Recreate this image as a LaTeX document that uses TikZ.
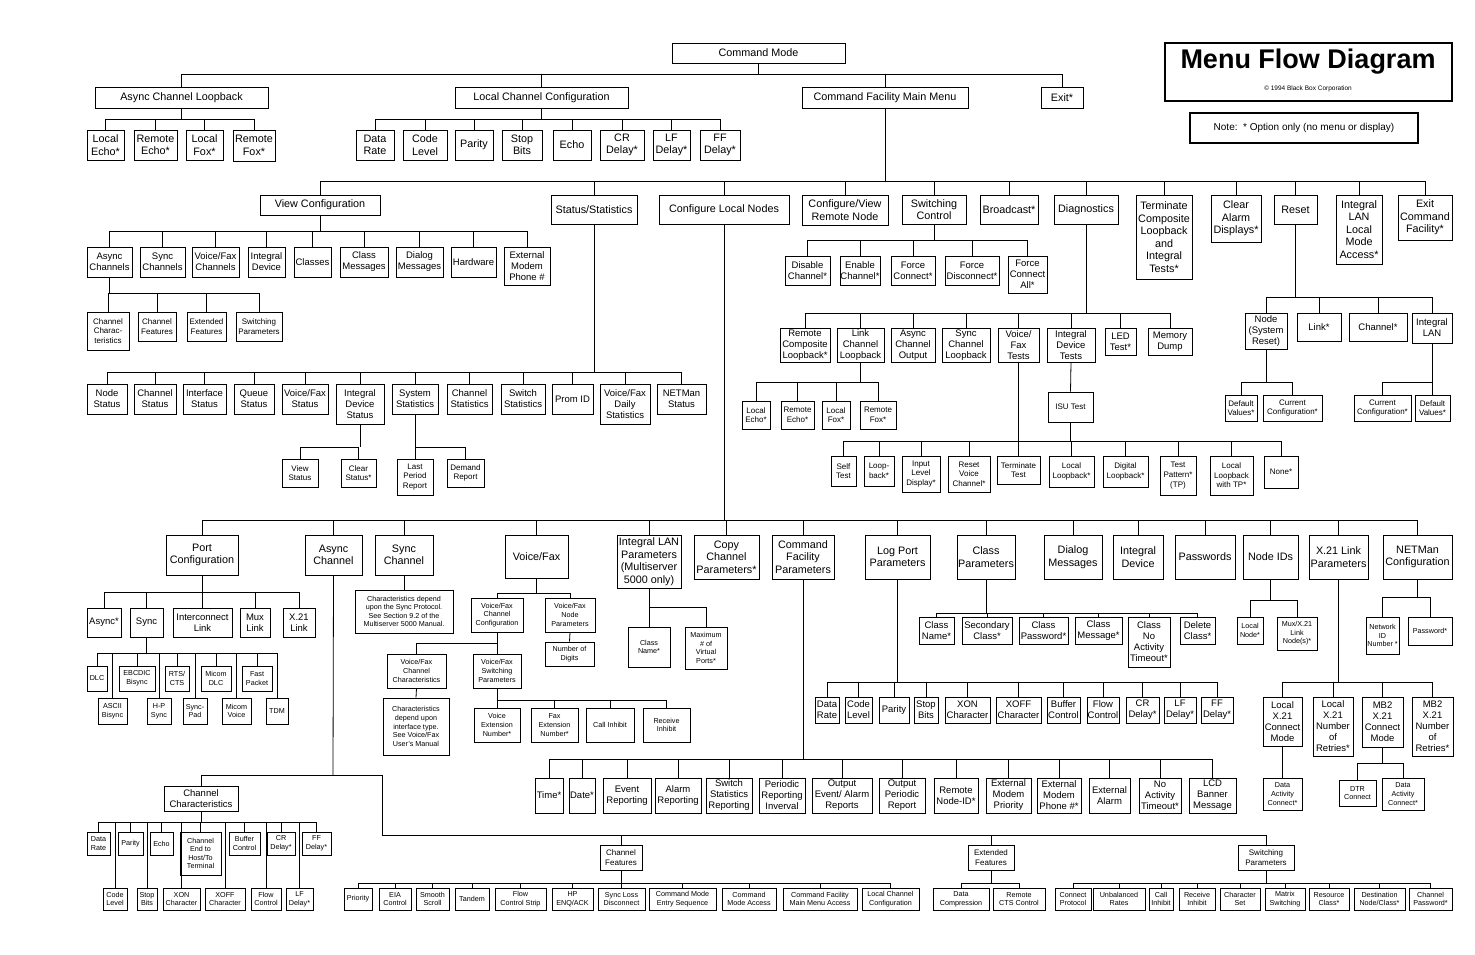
\documentclass[tikz,border=0pt]{standalone}
\usepackage{fontspec}
\setmainfont{Liberation Sans}
\newcommand\fa{\fontsize{10.8}{12.5}\selectfont}
\newcommand\fb{\fontsize{9.5}{11}\selectfont}
\newcommand\fc{\fontsize{8}{9.6}\selectfont}
\newcommand\fd{\fontsize{7.2}{8.6}\selectfont}
\tikzset{bx/.style={draw,line width=0.8pt,inner sep=0.5pt,align=center,font=\fb},
 sa/.style={font=\fa},sc/.style={font=\fc},sd/.style={font=\fd}}
\newcommand\B[7][]{\node[bx,#1,minimum width={(#4)-(#3)},minimum height={(#6)-(#5)}] (#2) at ({((#3)+(#4))/2},{((#5)+(#6))/2}) {#7};}
\newcommand\T[5]{\draw (#1.south) -- (#1.south|-0,#2); \draw (#3.north|-0,#2) -- (#4.north|-0,#2); \foreach \c in {#5}{\draw (\c.north) -- (\c.north|-0,#2);}}
\begin{document}
\begin{tikzpicture}[x=1pt,y=-1pt,line width=0.8pt]
\useasboundingbox[fill=white] (0,0) rectangle (1475,954);
% title
\draw[line width=2pt] (1165,43) rectangle (1452,101);
\node[font=\fontsize{27}{30}\bfseries\selectfont] (ttl) at (1308,62) {Menu Flow Diagram};
\node[font=\fontsize{6.5}{8}\selectfont] (cpy) at (1308,89) {\textcopyright{} 1994 Black Box Corporation};
\node[draw,line width=1.3pt,minimum width=228,minimum height=30,font=\fontsize{10}{12}\selectfont] (note) at (1304,128) {Note:\ \ * Option only (no menu or display)};
% top
\B[sa]{cm}{672}{845}{43}{63}{Command Mode}
\B[sa]{acl}{95}{268}{87}{108}{Async Channel Loopback}
\B[sa]{lcc}{455}{628}{87}{108}{Local Channel Configuration}
\B[sa]{cfmm}{802}{968}{87}{108}{Command Facility Main Menu}
\B[sa]{ext}{1041}{1083}{87}{108}{Exit*}
\T{cm}{74}{acl}{ext}{acl,lcc,cfmm,ext}
\B[sa]{a1}{87}{124}{130}{160}{Local\\Echo*}
\B[sa]{a2}{134}{177}{130}{160}{Remote\\Echo*}
\B[sa]{a3}{186}{223}{130}{160}{Local\\Fox*}
\B[sa]{a4}{233}{275}{130}{161}{Remote\\Fox*}
\T{acl}{119}{a1}{a4}{a1,a2,a3,a4}
\B[sa]{l1}{356}{394}{130}{160}{Data\\Rate}
\B[sa]{l2}{403}{447}{130}{160}{Code\\Level}
\B[sa]{l3}{455}{493}{130}{160}{Parity}
\B[sa]{l4}{502}{542}{130}{160}{Stop\\Bits}
\B[sa]{l5}{553}{591}{130}{160}{Echo}
\B[sa]{l6}{600}{644}{130}{160}{CR\\Delay*}
\B[sa]{l7}{653}{690}{130}{160}{LF\\Delay*}
\B[sa]{l8}{700}{740}{130}{160}{FF\\Delay*}
\T{lcc}{119}{l1}{l8}{l1,l2,l3,l4,l5,l6,l7,l8}
% CFMM children
\B[sa]{vc}{260}{380}{195}{215}{View Configuration}
\B[sa]{ss}{551}{637}{195}{224}{Status/Statistics}
\B[sa]{cln}{659}{789}{195}{224}{Configure Local Nodes}
\B[sa]{cvr}{802}{888}{195}{225}{Configure/View\\Remote Node}
\B[sa]{swc}{902}{966}{195}{224}{Switching\\Control}
\B[sa]{brc}{980}{1038}{195}{224}{Broadcast*}
\B[sa]{dia}{1054}{1118}{195}{224}{Diagnostics}
\B[sa]{tcl}{1136}{1192}{195}{279}{Terminate\\Composite\\Loopback\\and\\Integral\\Tests*}
\B[sa]{cad}{1211}{1261}{195}{242}{Clear\\Alarm\\Displays*}
\B[sa]{rst}{1274}{1317}{195}{224}{Reset}
\B[sa]{ilan}{1336}{1382}{195}{264}{Integral\\LAN\\Local\\Mode\\Access*}
\B[sa]{ecf}{1398}{1452}{195}{240}{Exit\\Command\\Facility*}
\T{cfmm}{181}{vc}{ecf}{vc,ss,cln,cvr,swc,brc,dia,tcl,cad,rst,ilan,ecf}
% View configuration
\B{v1}{87}{132}{247}{277}{Async\\Channels}
\B{v2}{140}{185}{247}{277}{Sync\\Channels}
\B{v3}{192}{239}{247}{277}{Voice/Fax\\Channels}
\B{v4}{248}{285}{247}{277}{Integral\\Device}
\B{v5}{294}{331}{247}{277}{Classes}
\B{v6}{340}{388}{247}{277}{Class\\Messages}
\B{v7}{396}{443}{247}{277}{Dialog\\Messages}
\B{v8}{451}{496}{247}{277}{Hardware}
\B{v9}{504}{550}{247}{285}{External\\Modem\\Phone \#}
\T{vc}{231}{v1}{v9}{v1,v2,v3,v4,v5,v6,v7,v8,v9}
\B[sc]{w1}{87}{129}{312}{350}{Channel\\Charac-\\teristics}
\B[sc]{w2}{138}{176}{312}{341}{Channel\\Features}
\B[sc]{w3}{187}{226}{312}{341}{Extended\\Features}
\B[sc]{w4}{236}{282}{312}{341}{Switching\\Parameters}
\T{v1}{293}{w1}{w4}{w1,w2,w3,w4}
% Status/Statistics
\B{s1}{87}{127}{384}{414}{Node\\Status}
\B{s2}{134}{176}{384}{414}{Channel\\Status}
\B{s3}{183}{226}{384}{414}{Interface\\Status}
\B{s4}{234}{274}{384}{414}{Queue\\Status}
\B{s5}{282}{328}{384}{414}{Voice/Fax\\Status}
\B{s6}{336}{384}{384}{424}{Integral\\Device\\Status}
\B{s7}{392}{438}{384}{414}{System\\Statistics}
\B{s8}{447}{492}{384}{414}{Channel\\Statistics}
\B{s9}{501}{545}{384}{414}{Switch\\Statistics}
\B{s10}{552}{593}{384}{414}{Prom ID}
\B{s11}{600}{650}{384}{424}{Voice/Fax\\Daily\\Statistics}
\B{s12}{657}{706}{384}{414}{NETMan\\Status}
\T{ss}{372}{s1}{s12}{s1,s2,s3,s4,s5,s6,s7,s8,s9,s10,s11,s12}
\B[sc]{s61}{282}{318}{459}{487}{View\\Status}
\B[sc]{s62}{341}{376}{459}{487}{Clear\\Status*}
\T{s6}{447}{s61}{s62}{s61,s62}
\B[sc]{s71}{397}{433}{459}{495}{Last\\Period\\Report}
\B[sc]{s72}{447}{484}{459}{487}{Demand\\Report}
\T{s7}{447}{s71}{s72}{s71,s72}
% Switching control
\B{c1}{785}{830}{256}{285}{Disable\\Channel*}
\B{c2}{840}{880}{256}{285}{Enable\\Channel*}
\B{c3}{891}{935}{256}{285}{Force\\Connect*}
\B{c4}{945}{999}{256}{285}{Force\\Disconnect*}
\B{c5}{1008}{1047}{256}{293}{Force\\Connect\\All*}
\T{swc}{240}{c1}{c5}{c1,c2,c3,c4,c5}
% Diagnostics
\B{d1}{780}{830}{328}{362}{Remote\\Composite\\Loopback*}
\B{d2}{837}{884}{328}{362}{Link\\Channel\\Loopback}
\B{d3}{891}{935}{328}{362}{Async\\Channel\\Output}
\B{d4}{942}{990}{328}{362}{Sync\\Channel\\Loopback}
\B{d5}{998}{1039}{328}{362}{Voice/\\Fax\\Tests}
\B{d6}{1047}{1095}{328}{362}{Integral\\Device\\Tests}
\B{d7}{1105}{1136}{328}{355}{LED\\Test*}
\B{d8}{1148}{1192}{328}{355}{Memory\\Dump}
\T{dia}{313}{d1}{d8}{d1,d2,d3,d4,d5,d6,d7,d8}
\B[sc]{e1}{742}{770}{401}{429}{Local\\Echo*}
\B[sc]{e2}{781}{814}{401}{429}{Remote\\Echo*}
\B[sc]{e3}{822}{850}{401}{429}{Local\\Fox*}
\B[sc]{e4}{860}{896}{401}{429}{Remote\\Fox*}
\T{d2}{382}{e1}{e4}{e1,e2,e3,e4}
\B[sc]{f1}{831}{856}{456}{486}{Self\\Test}
\B[sc]{f2}{864}{894}{456}{486}{Loop-\\back*}
\B[sc]{f3}{902}{940}{456}{492}{Input\\Level\\Display*}
\B[sc]{f4}{948}{990}{456}{492}{Reset\\Voice\\Channel*}
\B[sc]{f5}{997}{1040}{456}{484}{Terminate\\Test}
\B[sc]{isu}{1048}{1093}{392}{422}{ISU Test}
\draw (d6.south) -- (isu.north);
\B[sc]{g1}{1049}{1094}{456}{487}{Local\\Loopback*}
\B[sc]{g2}{1103}{1148}{456}{487}{Digital\\Loopback*}
\B[sc]{g3}{1160}{1196}{456}{495}{Test\\Pattern*\\(TP)}
\B[sc]{g4}{1210}{1253}{456}{495}{Local\\Loopback\\with TP*}
\B[sc]{g5}{1264}{1298}{456}{488}{None*}
\T{d5}{441}{f1}{g1}{f1,f2,f3,f4,f5}
\T{isu}{441}{g1}{g5}{g1,g2,g3,g4,g5}
% Reset
\B{r1}{1245}{1287}{313}{349}{Node\\(System\\Reset)}
\B{r2}{1297}{1341}{313}{341}{Link*}
\B{r3}{1349}{1407}{313}{341}{Channel*}
\B{r4}{1412}{1452}{313}{343}{Integral\\LAN}
\T{rst}{297}{r1}{r4}{r1,r2,r3,r4}
\B[sc]{r11}{1225}{1257}{395}{421}{Default\\Values*}
\B[sc]{r12}{1263}{1322}{395}{421}{Current\\Configuration*}
\T{r1}{382}{r11}{r12}{r11,r12}
\B[sc]{r41}{1354}{1411}{395}{421}{Current\\Configuration*}
\B[sc]{r42}{1415}{1450}{395}{421}{Default\\Values*}
\T{r4}{382}{r41}{r42}{r41,r42}
% Configure local nodes
\B[sa]{n1}{166}{238}{535}{575}{Port\\Configuration}
\B[sa]{n2}{305}{362}{535}{575}{Async\\Channel}
\B[sa]{n3}{375}{433}{535}{575}{Sync\\Channel}
\B[sa]{n4}{505}{568}{535}{578}{Voice/Fax}
\B[sa]{n5}{617}{681}{535}{588}{Integral LAN\\Parameters\\(Multiserver\\5000 only)}
\B[sa]{n6}{694}{759}{535}{579}{Copy\\Channel\\Parameters*}
\B[sa]{n7}{772}{834}{535}{579}{Command\\Facility\\Parameters}
\B[sa]{n8}{865}{930}{535}{579}{Log Port\\Parameters}
\B[sa]{n9}{957}{1015}{535}{579}{Class\\Parameters}
\B[sa]{n10}{1044}{1102}{535}{579}{Dialog\\Messages}
\B[sa]{n11}{1113}{1163}{535}{579}{Integral\\Device}
\B[sa]{n12}{1175}{1235}{535}{579}{Passwords}
\B[sa]{n13}{1243}{1298}{535}{579}{Node IDs}
\B[sa]{n14}{1309}{1368}{535}{579}{X.21 Link\\Parameters}
\B[sa]{n15}{1383}{1452}{535}{579}{NETMan\\Configuration}
\T{cln}{520}{n1}{n15}{n1,n2,n3,n4,n5,n6,n7,n8,n9,n10,n11,n12,n13,n14,n15}
% Port configuration
\B{p1}{87}{121}{608}{637}{Async*}
\B{p2}{130}{163}{608}{637}{Sync}
\B{p3}{173}{232}{608}{637}{Interconnect\\Link}
\B{p4}{240}{270}{608}{637}{Mux\\Link}
\B{p5}{283}{315}{608}{637}{X.21\\Link}
\T{n1}{592}{p1}{p5}{p1,p2,p3,p4,p5}
\B[sd]{q1}{87}{107}{666}{691}{DLC}
\B[sd]{q2}{119}{155}{666}{691}{EBCDIC\\Bisync}
\B[sd]{q3}{165}{189}{666}{691}{RTS/\\CTS}
\B[sd]{q4}{201}{231}{666}{691}{Micom\\DLC}
\B[sd]{q5}{242}{272}{666}{691}{Fast\\Packet}
\B[sd]{q6}{98}{127}{698}{724}{ASCII\\Bisync}
\B[sd]{q7}{147}{171}{698}{724}{H-P\\Sync}
\B[sd]{q8}{183}{207}{698}{724}{Sync-\\Pad}
\B[sd]{q9}{222}{251}{698}{724}{Micom\\Voice}
\B[sd]{q10}{266}{288}{698}{724}{TDM}
\T{p2}{653}{q1}{q10}{q1,q2,q3,q4,q5,q6,q7,q8,q9,q10}
% Async channel
\B{chc}{164}{238}{786}{811}{Channel\\Characteristics}
\coordinate (j0) at (333,775);
\coordinate (j1) at (382,835);
\draw (n2.south) -- (j0);
\draw (chc.north) |- (j0);
\draw (j0) -| (j1);
\B[sd]{h1}{87}{110}{832}{855}{Data\\Rate}
\B[sd]{h2}{118}{143}{832}{855}{Parity}
\B[sd]{h3}{150}{173}{832}{855}{Echo}
\B[sd]{h4}{180}{221}{832}{875}{Channel\\End to\\Host/To\\Terminal}
\B[sd]{h5}{229}{260}{832}{855}{Buffer\\Control}
\B[sd]{h6}{267}{295}{832}{855}{CR\\Delay*}
\B[sd]{h7}{302}{331}{832}{855}{FF\\Delay*}
\B[sd]{h8}{103}{127}{888}{910}{Code\\Level}
\B[sd]{h9}{137}{157}{888}{910}{Stop\\Bits}
\B[sd]{h10}{163}{200}{888}{910}{XON\\Character}
\B[sd]{h11}{205}{245}{888}{910}{XOFF\\Character}
\B[sd]{h12}{251}{281}{888}{910}{Flow\\Control}
\B[sd]{h13}{286}{313}{888}{910}{LF\\Delay*}
\T{chc}{822}{h1}{h7}{h1,h2,h3,h4,h5,h6,h7,h8,h9,h10,h11,h12,h13}
\B[sc]{cf}{600}{642}{845}{870}{Channel\\Features}
\B[sc]{ef}{968}{1014}{845}{870}{Extended\\Features}
\B[sc]{sp}{1238}{1294}{845}{870}{Switching\\Parameters}
\draw (j1) -- (sp.north|-j1);
\foreach \c in {cf,ef,sp}{\draw (\c.north) -- (\c.north|-j1);}
\B[sd]{k1}{344}{372}{888}{910}{Priority}
\B[sd]{k2}{379}{411}{888}{910}{EIA\\Control}
\B[sd]{k3}{416}{449}{888}{910}{Smooth\\Scroll}
\B[sd]{k4}{455}{489}{888}{910}{Tandem}
\B[sd]{k5}{495}{546}{888}{910}{Flow\\Control Strip}
\B[sd]{k6}{552}{593}{888}{910}{HP\\ENQ/ACK}
\B[sd]{k7}{598}{645}{888}{910}{Sync Loss\\Disconnect}
\B[sd]{k8}{649}{716}{888}{910}{Command Mode\\Entry Sequence}
\B[sd]{k9}{722}{776}{888}{910}{Command\\Mode Access}
\B[sd]{k10}{783}{857}{888}{910}{Command Facility\\Main Menu Access}
\B[sd]{k11}{862}{919}{888}{910}{Local Channel\\Configuration}
\T{cf}{883}{k1}{k11}{k1,k2,k3,k4,k5,k6,k7,k8,k9,k10,k11}
\B[sd]{x1}{933}{989}{888}{910}{Data\\Compression}
\B[sd]{x2}{993}{1045}{888}{910}{Remote\\CTS Control}
\T{ef}{883}{x1}{x2}{x1,x2}
\B[sd]{y1}{1055}{1091}{888}{910}{Connect\\Protocol}
\B[sd]{y2}{1093}{1145}{888}{910}{Unbalanced\\Rates}
\B[sd]{y3}{1149}{1173}{888}{910}{Call\\Inhibit}
\B[sd]{y4}{1179}{1215}{888}{910}{Receive\\Inhibit}
\B[sd]{y5}{1220}{1260}{888}{910}{Character\\Set}
\B[sd]{y6}{1265}{1305}{888}{910}{Matrix\\Switching}
\B[sd]{y7}{1309}{1349}{888}{910}{Resource\\Class*}
\B[sd]{y8}{1354}{1405}{888}{910}{Destination\\Node/Class*}
\B[sd]{y9}{1409}{1452}{888}{910}{Channel\\Password*}
\T{sp}{883}{y1}{y9}{y1,y2,y3,y4,y5,y6,y7,y8,y9}
% Sync channel
\B[sd]{sc1}{355}{453}{590}{633}{Characteristics depend\\upon the Sync Protocol.\\See Section 9.2 of the\\Multiserver 5000 Manual.}
\draw (n3.south) -- (sc1.north);
% Voice/Fax
\B[sd]{vf1}{471}{523}{598}{632}{Voice/Fax\\Channel\\Configuration}
\B[sd]{vf2}{545}{595}{598}{632}{Voice/Fax\\Node\\Parameters}
\T{n4}{593}{vf1}{vf2}{vf1,vf2}
\B[sd]{vf3}{545}{594}{642}{666}{Number of\\Digits}
\draw (vf2.south) -- (vf3.north);
\B[sd]{vf4}{473}{521}{654}{688}{Voice/Fax\\Switching\\Parameters}
\B[sd]{vf5}{387}{446}{654}{688}{Voice/Fax\\Channel\\Characteristics}
\B[sd]{vf6}{383}{449}{698}{755}{Characteristics\\depend upon\\interface type.\\See Voice/Fax\\User's Manual}
\draw (vf1.south) -- (vf4.north);
\draw (vf5.north) |- (vf1.south|-0,643);
\draw (vf5.south) -- (vf6.north);
\B[sd]{vf7}{474}{520}{708}{742}{Voice\\Extension\\Number*}
\B[sd]{vf8}{531}{578}{708}{742}{Fax\\Extension\\Number*}
\B[sd]{vf9}{586}{634}{708}{742}{Call Inhibit}
\B[sd]{vf10}{643}{690}{708}{742}{Receive\\Inhibit}
\T{vf4}{700}{vf7}{vf10}{vf7,vf8,vf9,vf10}
% Integral LAN
\B[sd]{il1}{628}{670}{627}{667}{Class\\Name*}
\B[sd]{il2}{685}{727}{627}{669}{Maximum\\\# of\\Virtual\\Ports*}
\T{n5}{607}{il1}{il2}{il1,il2}
% Command facility parameters
\B{t1}{535}{563}{778}{813}{Time*}
\B{t2}{569}{595}{778}{813}{Date*}
\B{t3}{603}{651}{778}{813}{Event\\Reporting}
\B{t4}{655}{701}{778}{813}{Alarm\\Reporting}
\B{t5}{706}{752}{778}{813}{Switch\\Statistics\\Reporting}
\B{t6}{759}{805}{778}{813}{Periodic\\Reporting\\Inverval}
\B{t7}{812}{872}{778}{813}{Output\\Event/ Alarm\\Reports}
\B{t8}{879}{925}{778}{813}{Output\\Periodic\\Report}
\B{t9}{934}{978}{778}{813}{Remote\\Node-ID*}
\B{t10}{986}{1031}{778}{813}{External\\Modem\\Priority}
\B{t11}{1037}{1081}{778}{813}{External\\Modem\\Phone \#*}
\B{t12}{1089}{1130}{778}{813}{External\\Alarm}
\B{t13}{1139}{1181}{778}{813}{No\\Activity\\Timeout*}
\B{t14}{1189}{1236}{778}{813}{LCD\\Banner\\Message}
\T{n7}{759}{t1}{t14}{t1,t2,t3,t4,t5,t6,t7,t8,t9,t10,t11,t12,t13,t14}
% Log port
\B{o1}{815}{839}{697}{723}{Data\\Rate}
\B{o2}{845}{872}{697}{723}{Code\\Level}
\B{o3}{879}{909}{697}{723}{Parity}
\B{o4}{914}{938}{697}{723}{Stop\\Bits}
\B{o5}{945}{990}{697}{723}{XON\\Character}
\B{o6}{996}{1041}{697}{723}{XOFF\\Character}
\B{o7}{1047}{1080}{697}{723}{Buffer\\Control}
\B{o8}{1087}{1119}{697}{723}{Flow\\Control}
\B{o9}{1126}{1159}{697}{723}{CR\\Delay*}
\B{o10}{1164}{1196}{697}{723}{LF\\Delay*}
\B{o11}{1201}{1233}{697}{723}{FF\\Delay*}
\T{n8}{682}{o1}{o11}{o1,o2,o3,o4,o5,o6,o7,o8,o9,o10,o11}
% Class params
\B{m1}{919}{954}{617}{644}{Class\\Name*}
\B{m2}{962}{1012}{617}{644}{Secondary\\Class*}
\B{m3}{1019}{1068}{617}{644}{Class\\Password*}
\B{m4}{1075}{1122}{617}{644}{Class\\Message*}
\B{m5}{1128}{1170}{617}{667}{Class\\No\\Activity\\Timeout*}
\B{m6}{1180}{1215}{617}{644}{Delete\\Class*}
\T{n9}{613}{m1}{m6}{m1,m2,m3,m4,m5,m6}
% Node IDs
\B[sd]{ni1}{1237}{1263}{617}{644}{Local\\Node*}
\B[sd]{ni2}{1277}{1317}{617}{650}{Mux/X.21\\Link\\Node(s)*}
\T{n13}{600}{ni1}{ni2}{ni1,ni2}
% X.21
\B{z1}{1263}{1302}{697}{746}{Local\\X.21\\Connect\\Mode}
\B{z2}{1313}{1353}{697}{756}{Local\\X.21\\Number\\of\\Retries*}
\B{z3}{1362}{1403}{697}{747}{MB2\\X.21\\Connect\\Mode}
\B{z4}{1412}{1453}{697}{756}{MB2\\X.21\\Number\\of\\Retries*}
\T{n14}{682}{z1}{z4}{z1,z2,z3,z4}
\B[sd]{z11}{1263}{1302}{778}{810}{Data\\Activity\\Connect*}
\draw (z1.south) -- (z11.north);
\B[sd]{z31}{1339}{1376}{780}{806}{DTR\\Connect}
\B[sd]{z32}{1382}{1424}{778}{810}{Data\\Activity\\Connect*}
\T{z3}{763}{z31}{z32}{z31,z32}
% NETMan
\B[sd]{nm1}{1366}{1399}{617}{654}{Network\\ID\\Number *}
\B[sd]{nm2}{1408}{1452}{617}{645}{Password*}
\T{n15}{597}{nm1}{nm2}{nm1,nm2}
\end{tikzpicture}
\end{document}
